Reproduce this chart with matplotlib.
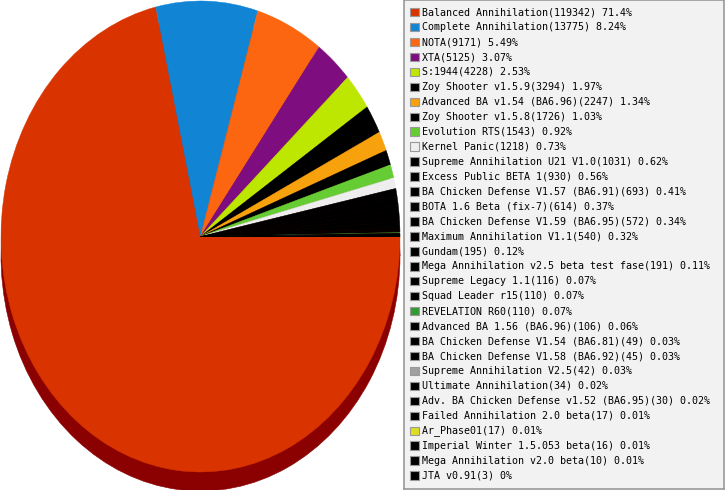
import matplotlib
matplotlib.use("Agg")
import matplotlib.pyplot as plt
from matplotlib.patches import Rectangle

# mod names and game counts, in pie order
mods = [
    "Balanced Annihilation", "Complete Annihilation", "NOTA", "XTA", "S:1944",
    "Zoy Shooter v1.5.9", "Advanced BA v1.54 (BA6.96)", "Zoy Shooter v1.5.8",
    "Evolution RTS", "Kernel Panic", "Supreme Annihilation U21 V1.0",
    "Excess Public BETA 1", "BA Chicken Defense V1.57 (BA6.91)",
    "BOTA 1.6 Beta (fix-7)", "BA Chicken Defense V1.59 (BA6.95)",
    "Maximum Annihilation V1.1", "Gundam", "Mega Annihilation v2.5 beta test fase",
    "Supreme Legacy 1.1", "Squad Leader r15", "REVELATION R60",
    "Advanced BA 1.56 (BA6.96)", "BA Chicken Defense V1.54 (BA6.81)",
    "BA Chicken Defense V1.58 (BA6.92)", "Supreme Annihilation V2.5",
    "Ultimate Annihilation", "Adv. BA Chicken Defense v1.52 (BA6.95)",
    "Failed Annihilation 2.0 beta", "Ar_Phase01", "Imperial Winter 1.5.053 beta",
    "Mega Annihilation v2.0 beta", "JTA v0.91",
]
games = [
    119342, 13775, 9171, 5125, 4228, 3294, 2247, 1726, 1543, 1218, 1031, 930,
    693, 614, 572, 540, 195, 191, 116, 110, 110, 106, 49, 45, 42, 34, 30, 17,
    17, 16, 10, 3,
]
colors = [
    "#d93400", "#1185d4", "#fd6610", "#7e0d80", "#bde600", "#000000",
    "#f7a10c", "#000000", "#66cc33", "#eeeeee", "#000000", "#000000",
    "#000000", "#000000", "#000000", "#000000", "#000000", "#000000",
    "#000000", "#000000", "#339933", "#000000", "#000000", "#000000",
    "#a0a0a0", "#000000", "#000000", "#000000", "#dddd22", "#000000",
    "#000000", "#000000",
]

W, H = 725, 490
fig = plt.figure(figsize=(W / 100, H / 100), dpi=100)

# pie axes: face ellipse spans x 1..400, y 1..472 (px from top)
rx, ry = 399.0, 235.5
ax = fig.add_axes([1 / W, 0, rx / W, 489 / H])
shadow = 19 / ry

# shadow (dark red depth under the pie)
sw, _ = ax.pie(games, startangle=0, counterclock=False, center=(0, -shadow),
               colors=["#8b0000"] * len(games), wedgeprops=dict(linewidth=0))
for w in sw:
    w.set_edgecolor("#8b0000")
    w.set_linewidth(0.4)

wedges, _ = ax.pie(games, startangle=0, counterclock=False, colors=colors,
                   wedgeprops=dict(linewidth=0))
total = sum(games)
for w, n in zip(wedges, games):
    # hide antialias seams, but keep the tiniest slices hair-thin
    if n / total > 0.001 or w.get_facecolor()[:3] == (0.0, 0.0, 0.0):
        w.set_edgecolor(w.get_facecolor())
        w.set_linewidth(0.3)

ax.set_aspect("auto")
ax.set_xlim(-1, 1)
ax.set_ylim(1 - 489 / ry, 1)
ax.axis("off")

# legend box
lx0, lx1, ly0, ly1 = 404, 724, 0, 489
lax = fig.add_axes([lx0 / W, (H - ly1) / H, (lx1 - lx0) / W, (ly1 - ly0) / H])
lax.set_xlim(0, lx1 - lx0)
lax.set_ylim(ly1 - ly0, 0)
lax.set_facecolor("#f2f2f2")
for s in lax.spines.values():
    s.set_color("#999999")
    s.set_linewidth(1.2)
lax.set_xticks([])
lax.set_yticks([])

for i, (name, n, c) in enumerate(zip(mods, games, colors)):
    y = 12.2 + 14.95 * i
    pct = round(100 * n / total, 2)
    lax.add_patch(Rectangle((6.5, y - 4.3), 8.5, 8.5, facecolor=c,
                            edgecolor="#999999", linewidth=0.8))
    lax.text(18, y, f"{name}({n}) {pct:.3g}%", fontsize=7.2,
             family="DejaVu Sans Mono", va="center", ha="left", color="#000000")

fig.savefig("out.png", dpi=100)
